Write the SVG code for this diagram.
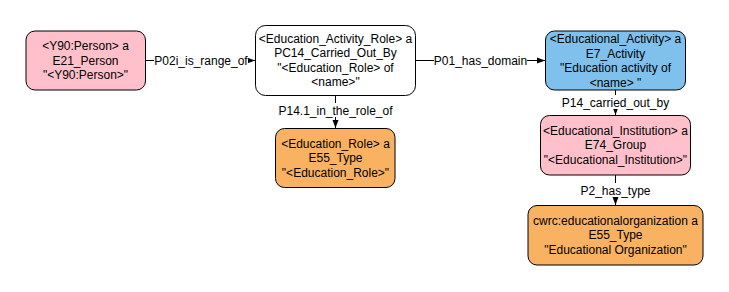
<svg xmlns="http://www.w3.org/2000/svg" width="729" height="292" viewBox="0 0 729 292">
<style>
  .node rect { stroke: #000; stroke-width: 1; }
  .t { font-family: "Liberation Sans", Arial, sans-serif; font-size: 12px; fill: #000; text-anchor: middle; }
  .edge line { stroke: #000; stroke-width: 1; fill: none; }
  .lbl { fill: #fff; }
  .pink { fill: #FFC0CB; }
  .white { fill: #FFFFFF; }
  .orange { fill: #F9B262; }
  .blue { fill: #7FC1EC; }
</style>
<defs>
  <marker id="arr" viewBox="0 0 8 8" refX="8" refY="4" markerWidth="8" markerHeight="8" markerUnits="userSpaceOnUse" orient="auto">
    <path d="M0,1 L8,4 L0,7 Z" fill="#000"/>
  </marker>
</defs>
<rect width="729" height="292" fill="#fff"/>
<g id="connectors" class="edge">
  <line x1="145.5" y1="60.5" x2="255" y2="60.5" marker-end="url(#arr)"/>
  <line x1="415.5" y1="60.5" x2="545" y2="60.5" marker-end="url(#arr)"/>
  <line x1="335.5" y1="95" x2="335.5" y2="128" marker-end="url(#arr)"/>
  <line x1="615.5" y1="90" x2="615.5" y2="115" marker-end="url(#arr)"/>
  <line x1="615.5" y1="175" x2="615.5" y2="205" marker-end="url(#arr)"/>
  <rect class="lbl" x="154" y="53" width="94" height="14"/>
  <text class="t" x="201" y="64.5">P02i_is_range_of</text>
  <rect class="lbl" x="434" y="53" width="93" height="14"/>
  <text class="t" x="480.5" y="64.5">P01_has_domain</text>
  <rect class="lbl" x="277" y="103" width="117" height="14"/>
  <text class="t" x="335.5" y="114.5">P14.1_in_the_role_of</text>
  <rect class="lbl" x="562" y="95" width="107" height="14"/>
  <text class="t" x="615.5" y="106.5">P14_carried_out_by</text>
  <rect class="lbl" x="580" y="183" width="71" height="14"/>
  <text class="t" x="615.5" y="194.5">P2_has_type</text>
</g>
<g id="person" class="node">
  <rect class="pink" x="26" y="31" width="119.5" height="59" rx="9"/>
  <text class="t" x="85.5" y="50">&lt;Y90:Person&gt; a</text>
  <text class="t" x="85.5" y="64.5">E21_Person</text>
  <text class="t" x="85.5" y="79">"&lt;Y90:Person&gt;"</text>
</g>
<g id="role" class="node">
  <rect class="white" x="255.5" y="25.5" width="160" height="70" rx="10"/>
  <text class="t" x="335.5" y="42.5">&lt;Education_Activity_Role&gt; a</text>
  <text class="t" x="335.5" y="57">PC14_Carried_Out_By</text>
  <text class="t" x="335.5" y="71.5">"&lt;Education_Role&gt; of</text>
  <text class="t" x="335.5" y="86">&lt;name&gt;"</text>
</g>
<g id="edrole" class="node">
  <rect class="orange" x="275.5" y="128.5" width="119.5" height="59" rx="9"/>
  <text class="t" x="335.5" y="147.5">&lt;Education_Role&gt; a</text>
  <text class="t" x="335.5" y="162">E55_Type</text>
  <text class="t" x="335.5" y="176.5">"&lt;Education_Role&gt;"</text>
</g>
<g id="activity" class="node">
  <rect class="blue" x="545.5" y="31" width="140" height="59" rx="9"/>
  <text class="t" x="615.5" y="43">&lt;Educational_Activity&gt; a</text>
  <text class="t" x="615.5" y="57.5">E7_Activity</text>
  <text class="t" x="615.5" y="72">"Education activity of</text>
  <text class="t" x="615.5" y="86.5">&lt;name&gt; "</text>
</g>
<g id="institution" class="node">
  <rect class="pink" x="540.5" y="115.5" width="150" height="59.5" rx="9"/>
  <text class="t" x="615.5" y="134.5">&lt;Educational_Institution&gt; a</text>
  <text class="t" x="615.5" y="149">E74_Group</text>
  <text class="t" x="615.5" y="163.5">"&lt;Educational_Institution&gt;"</text>
</g>
<g id="org" class="node">
  <rect class="orange" x="528" y="205.5" width="175" height="59.5" rx="9"/>
  <text class="t" x="615.5" y="224.5">cwrc:educationalorganization a</text>
  <text class="t" x="615.5" y="239">E55_Type</text>
  <text class="t" x="615.5" y="253.5">"Educational Organization"</text>
</g>
</svg>
